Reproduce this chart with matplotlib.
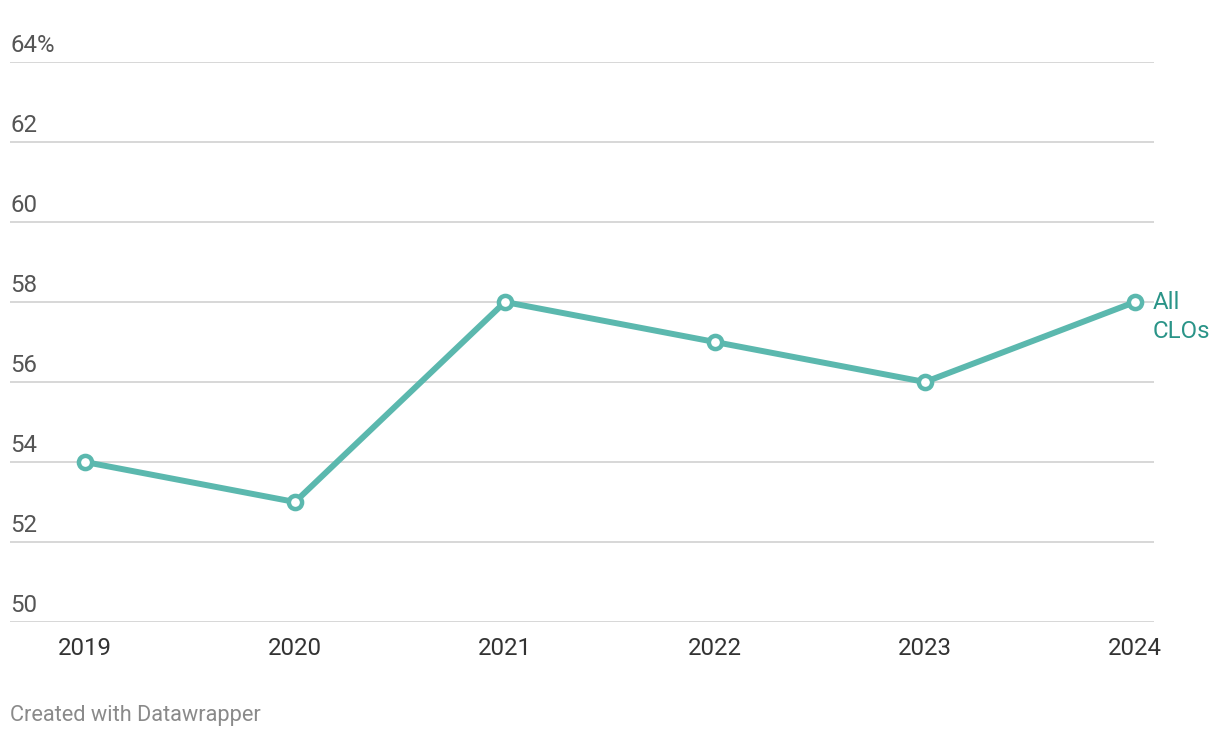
import matplotlib.pyplot as plt

plt.rcParams['font.family'] = ['Roboto', 'DejaVu Sans']

# Data
years = [2019, 2020, 2021, 2022, 2023, 2024]
values = [54, 53, 58, 57, 56, 58]
yticks = [50, 52, 54, 56, 58, 60, 62, 64]
ytick_labels = ['50', '52', '54', '56', '58', '60', '62', '64%']
series_name = 'All\nCLOs'

line_color = '#5bb8ae'
label_color = '#2a9488'

fig = plt.figure(figsize=(12.2, 7.38), dpi=100)
ax = fig.add_axes([10 / 1220, 116 / 738, 1144 / 1220, 560 / 738])

ax.set_xlim(2019 - 75 / 210, 2024 + 19 / 210)
ax.set_ylim(50, 64)

# Gridlines
for y in yticks:
    ax.axhline(y, color='#d4d4d4', lw=1.3, zorder=1)

ax.plot(years, values, color=line_color, lw=4.3, zorder=3,
        solid_capstyle='round', solid_joinstyle='round')
ax.plot(years, values, 'o', ms=9.5, mfc='white', mec=line_color, mew=3.2, zorder=4)

# Y labels sit above the gridlines
for y, lab in zip(yticks, ytick_labels):
    ax.text(0, y + 0.13, lab, transform=ax.get_yaxis_transform(), ha='left', va='bottom',
            fontsize=17.3, color='#555555')

# X labels
for yr in years:
    ax.text(yr, -0.026, str(yr), transform=ax.get_xaxis_transform(), ha='center', va='top',
            fontsize=17.3, color='#333333')

# Series label
ax.annotate(series_name, (years[-1], values[-1]), xytext=(13, -11), textcoords='offset points',
            ha='left', va='center', fontsize=17.3, color=label_color, linespacing=1.32)

ax.set_xticks([])
ax.set_yticks([])
for s in ax.spines.values():
    s.set_visible(False)
ax.patch.set_alpha(0)

fig.text(10 / 1220, 1 - 715 / 738, 'Created with Datawrapper', ha='left', va='center',
         fontsize=15.7, color='#8a8a8a')

fig.savefig('out.png', dpi=100)
